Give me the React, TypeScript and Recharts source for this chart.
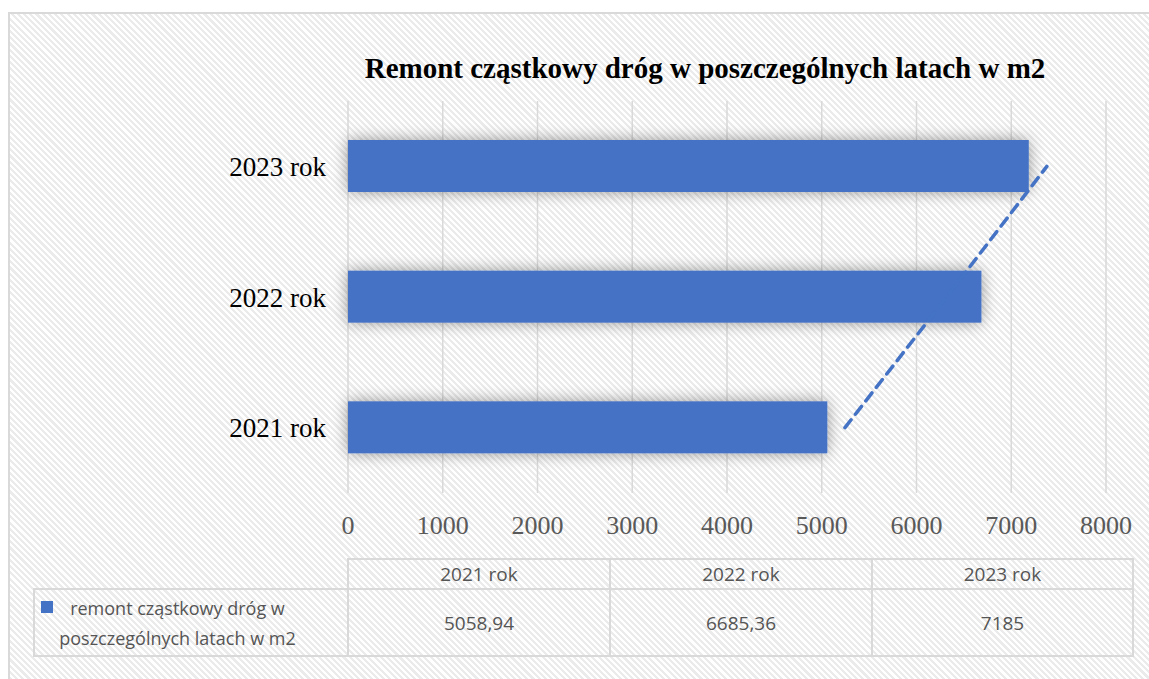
import React from 'react';
import { ComposedChart, Bar, Line, XAxis, YAxis, CartesianGrid } from 'recharts';

// kategorie i wartości
const years = ['2021 rok', '2022 rok', '2023 rok'];
const repairs = [5058.94, 6685.36, 7185];
const repairLabels = ['5058,94', '6685,36', '7185'];
// linia trendu
const trend = [5245, 6318, 7376];
const xTicks = [0, 1000, 2000, 3000, 4000, 5000, 6000, 7000, 8000];

const title = 'Remont cząstkowy dróg w poszczególnych latach w m2';
const seriesName = ['remont cząstkowy dróg w', 'poszczególnych latach w m2'];

const BLUE = '#4472C4';
const GRID = '#d9d9d9';
const GRAY_TEXT = '#595959';

const data = years.map((year, i) => ({ year, value: repairs[i], trend: trend[i] }));

const colEdges = [348, 610, 872, 1133];

const ShadowBar = (props: any) => {
  const { x, y, width, height, fill } = props;
  return <rect x={x} y={y} width={width} height={height} fill={fill} filter="url(#barShadow)" />;
};

const cell = (left: number, top: number, right: number, bottom: number): React.CSSProperties => ({
  position: 'absolute',
  left: left - 1,
  top: top - 1,
  width: right - left + 2,
  height: bottom - top + 2,
  border: `2px solid ${GRID}`,
  boxSizing: 'border-box',
  display: 'flex',
  alignItems: 'center',
  justifyContent: 'center',
  fontFamily: '"Open Sans", sans-serif',
  fontSize: 19,
  color: '#555',
});

export default function App() {
  return (
    <div style={{ position: 'absolute', left: 0, top: 0, width: 1149, height: 679, overflow: 'hidden', background: '#fff' }}>
      <svg width="0" height="0" style={{ position: 'absolute' }}>
        <defs>
          <filter id="barShadow" x="-10%" y="-70%" width="120%" height="240%">
            <feGaussianBlur in="SourceAlpha" stdDeviation="8" />
            <feComponentTransfer>
              <feFuncA type="linear" slope="0.4" />
            </feComponentTransfer>
            <feMerge>
              <feMergeNode />
              <feMergeNode in="SourceGraphic" />
            </feMerge>
          </filter>
        </defs>
      </svg>

      {/* tło w ukośne paski */}
      <div
        style={{
          position: 'absolute',
          left: 8,
          top: 12,
          width: 1160,
          height: 700,
          border: `2px solid ${GRID}`,
          background: 'repeating-linear-gradient(45deg, #ffffff 0px, #ffffff 2.2px, #ebebeb 2.2px, #ebebeb 4.4px)',
        }}
      />

      <div
        style={{
          position: 'absolute',
          left: 705 - 450,
          width: 900,
          top: 52,
          textAlign: 'center',
          fontFamily: '"Liberation Serif", serif',
          fontWeight: 'bold',
          fontSize: 29,
          lineHeight: '32px',
          color: '#000',
        }}
      >
        {title}
      </div>

      <div style={{ position: 'absolute', left: 0, top: 0 }}>
        <ComposedChart
          width={1149}
          height={679}
          data={data}
          layout="vertical"
          margin={{ top: 101, right: 43, bottom: 146, left: 0 }}
        >
          <CartesianGrid horizontal={false} stroke={GRID} strokeWidth={1.5} />
          <XAxis
            type="number"
            domain={[0, 8000]}
            ticks={xTicks}
            axisLine={false}
            tickLine={false}
            height={40}
            tickMargin={17}
            tick={{ fontSize: 26, fill: GRAY_TEXT, fontFamily: '"Liberation Serif", serif' }}
          />
          <YAxis
            type="category"
            dataKey="year"
            reversed
            width={348}
            axisLine={false}
            tickLine={false}
            tickMargin={16}
            tick={{ fontSize: 27, fill: '#000', fontFamily: '"Liberation Serif", serif' }}
          />
          <Bar dataKey="value" fill={BLUE} barSize={52} shape={ShadowBar} isAnimationActive={false} />
          <Line
            type="linear"
            dataKey="trend"
            stroke={BLUE}
            strokeWidth={3.5}
            strokeDasharray="10 7"
            strokeLinecap="round"
            dot={false}
            activeDot={false}
            isAnimationActive={false}
          />
        </ComposedChart>
      </div>

      {/* tabela danych */}
      {years.map((y, i) => (
        <div key={`h-${y}`} style={cell(colEdges[i], 559, colEdges[i + 1], 589)}>
          {y}
        </div>
      ))}
      <div style={cell(34, 589, 348, 656)} />
      <div style={{ position: 'absolute', left: 41, top: 601, width: 12, height: 12, background: BLUE }} />
      <div
        style={{
          position: 'absolute',
          left: 177.5 - 130,
          width: 260,
          top: 593,
          textAlign: 'center',
          fontFamily: '"Open Sans", sans-serif',
          fontSize: 18,
          lineHeight: '30px',
          color: '#555',
        }}
      >
        {seriesName[0]}
        <br />
        {seriesName[1]}
      </div>
      {repairLabels.map((v, i) => (
        <div key={`v-${i}`} style={cell(colEdges[i], 589, colEdges[i + 1], 656)}>
          {v}
        </div>
      ))}
    </div>
  );
}
